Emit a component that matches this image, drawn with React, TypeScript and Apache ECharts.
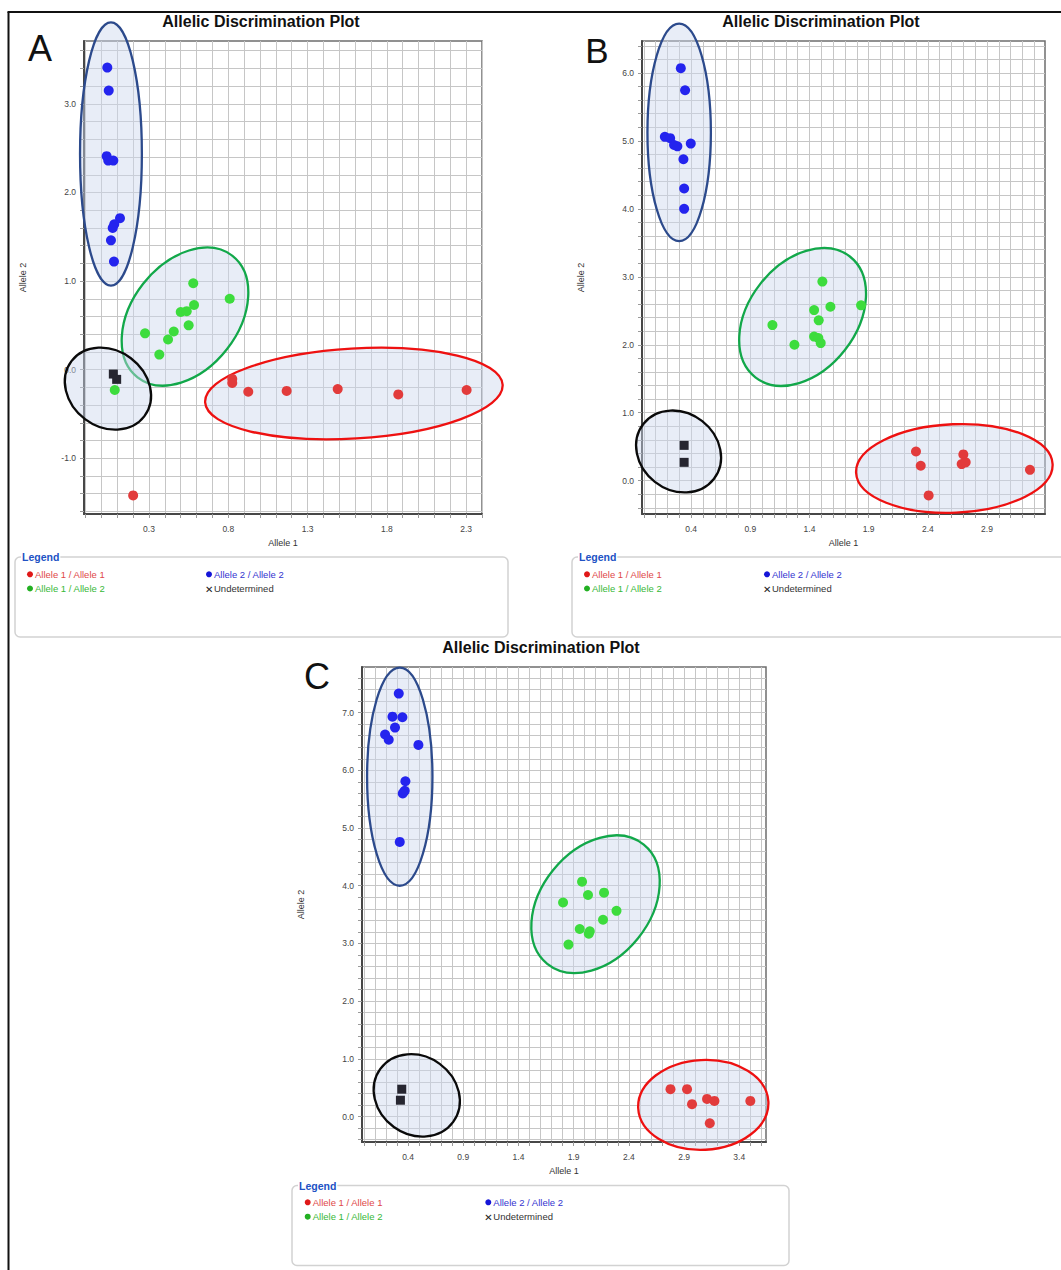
import React, { useEffect, useRef } from 'react';
import * as echarts from 'echarts';

// ---------- Panel A ----------
const A_X_LABELS = [0.3, 0.8, 1.3, 1.8, 2.3];
const A_Y_LABELS = [-1.0, 0.0, 1.0, 2.0, 3.0];
const A_X_RANGE = [-0.11, 2.4];
const A_Y_RANGE = [-1.63, 3.71];
const A_RED = [[0.825, -0.105], [0.825, -0.15], [0.926, -0.25], [1.168, -0.24], [1.49, -0.22], [1.872, -0.28], [2.303, -0.23], [0.2, -1.42]];
const A_GREEN = [[0.579, 0.975], [0.809, 0.8], [0.584, 0.73], [0.5, 0.65], [0.538, 0.66], [0.55, 0.5], [0.275, 0.41], [0.456, 0.43], [0.42, 0.34], [0.365, 0.17], [0.084, -0.23]];
const A_BLUE = [[0.037, 3.41], [0.046, 3.15], [0.033, 2.41], [0.043, 2.36], [0.075, 2.36], [0.117, 1.71], [0.081, 1.64], [0.071, 1.6], [0.06, 1.46], [0.079, 1.22]];
const A_UND = [[0.075, -0.05], [0.096, -0.11]];
// cluster ellipses: [centre x, centre y, semi-axis (x units), semi-axis (y units), tilt deg] — blue, green, black, red
const A_ELLIPSES = [[0.06, 2.435, 0.195, 1.486, 0], [0.527, 0.599, 0.486, 0.6, 52], [0.041, -0.215, 0.288, 0.43, -37], [1.592, -0.27, 0.94, 0.508, 3.4]];

// ---------- Panel B ----------
const B_X_LABELS = [0.4, 0.9, 1.4, 1.9, 2.4, 2.9];
const B_Y_LABELS = [0.0, 1.0, 2.0, 3.0, 4.0, 5.0, 6.0];
const B_X_RANGE = [-0.015, 3.39];
const B_Y_RANGE = [-0.49, 6.47];
const B_RED = [[2.3, 0.43], [2.34, 0.22], [2.407, -0.216], [2.7, 0.387], [2.686, 0.245], [2.72, 0.27], [3.263, 0.16]];
const B_GREEN = [[1.509, 2.93], [1.439, 2.51], [1.577, 2.56], [1.836, 2.58], [1.478, 2.36], [1.087, 2.29], [1.273, 2.0], [1.439, 2.12], [1.475, 2.1], [1.495, 2.025]];
const B_BLUE = [[0.313, 6.07], [0.349, 5.745], [0.178, 5.06], [0.223, 5.04], [0.256, 4.94], [0.284, 4.92], [0.397, 4.96], [0.335, 4.73], [0.341, 4.3], [0.341, 4.0]];
const B_UND = [[0.341, 0.52], [0.341, 0.27]];
const B_ELLIPSES = [[0.299, 5.125, 0.268, 1.6, 0], [1.342, 2.41, 0.648, 0.79, 52], [0.294, 0.43, 0.378, 0.566, -38], [2.624, 0.18, 0.831, 0.651, 2.5]];

// ---------- Panel C ----------
const C_X_LABELS = [0.4, 0.9, 1.4, 1.9, 2.4, 2.9, 3.4];
const C_Y_LABELS = [0.0, 1.0, 2.0, 3.0, 4.0, 5.0, 6.0, 7.0];
const C_X_RANGE = [-0.017, 3.642];
const C_Y_RANGE = [-0.44, 7.79];
const C_RED = [[2.777, 0.475], [2.927, 0.475], [2.972, 0.215], [3.108, 0.307], [3.175, 0.272], [3.133, -0.115], [3.5, 0.272]];
const C_GREEN = [[1.976, 4.07], [2.03, 3.84], [2.175, 3.88], [1.804, 3.71], [2.288, 3.565], [2.166, 3.41], [1.955, 3.25], [2.046, 3.21], [2.037, 3.17], [1.853, 2.98]];
const C_BLUE = [[0.316, 7.33], [0.259, 6.93], [0.349, 6.92], [0.282, 6.74], [0.192, 6.62], [0.225, 6.53], [0.494, 6.44], [0.376, 5.81], [0.37, 5.645], [0.352, 5.6], [0.325, 4.76]];
const C_UND = [[0.343, 0.475], [0.331, 0.284]];
const C_ELLIPSES = [[0.325, 5.89, 0.296, 1.89, 0], [2.098, 3.68, 0.695, 0.944, 51], [0.479, 0.367, 0.408, 0.676, -36], [3.074, 0.203, 0.59, 0.778, 2.9]];

const TITLE = 'Allelic Discrimination Plot';
const LEGEND_ITEMS = ['Allele 1 / Allele 1', 'Allele 1 / Allele 2', 'Allele 2 / Allele 2', 'Undetermined'];

const FONT = '"Liberation Sans", Arial, sans-serif';
const RED = '#e23b3b';
const GREEN = '#3ddc3d';
const BLUE = '#2424ee';
const DARK = '#262630';
const ELLIPSE_STROKES = ['#2c4a8c', '#12a84a', '#0a0a0a', '#ee1111'];
const ELLIPSE_FILL = 'rgba(204,216,238,0.45)';

function gridValues(min: number, max: number, step: number) {
  const out: number[] = [];
  const start = Math.ceil(min / step - 1e-9);
  for (let k = start; k * step <= max + 1e-9; k++) out.push(Math.round(k * step * 1000) / 1000);
  return out;
}

const PANELS = [
  {
    grid: { left: 84, top: 41, width: 398, height: 473 },
    xRange: A_X_RANGE, yRange: A_Y_RANGE, xLabels: A_X_LABELS, yLabels: A_Y_LABELS,
    red: A_RED, green: A_GREEN, blue: A_BLUE, und: A_UND, ellipses: A_ELLIPSES,
  },
  {
    grid: { left: 642, top: 41, width: 403, height: 473 },
    xRange: B_X_RANGE, yRange: B_Y_RANGE, xLabels: B_X_LABELS, yLabels: B_Y_LABELS,
    red: B_RED, green: B_GREEN, blue: B_BLUE, und: B_UND, ellipses: B_ELLIPSES,
  },
  {
    grid: { left: 362, top: 667, width: 404, height: 475 },
    xRange: C_X_RANGE, yRange: C_Y_RANGE, xLabels: C_X_LABELS, yLabels: C_Y_LABELS,
    red: C_RED, green: C_GREEN, blue: C_BLUE, und: C_UND, ellipses: C_ELLIPSES,
  },
];

function legendGraphic(x: number, y: number, w: number, h: number, c1: number, c2: number, r1: number, r2: number) {
  const txt = (tx: number, ty: number, text: string, fill: string, font?: string) => ({
    type: 'text', x: tx, y: ty, silent: true,
    style: { text, fill, font: font || `9.5px ${FONT}`, textAlign: 'left', textVerticalAlign: 'middle' },
  });
  return {
    type: 'group', silent: true,
    children: [
      { type: 'rect', shape: { x, y, width: w, height: h, r: 5 }, style: { fill: '#fff', stroke: '#d2d2d2', lineWidth: 1.5 } },
      {
        type: 'text', x: x + 6, y: y, style: {
          text: 'Legend', fill: '#2152c4', font: `bold 10.5px ${FONT}`, textAlign: 'left', textVerticalAlign: 'middle',
          backgroundColor: '#fff', padding: [0, 1, 0, 1],
        },
      },
      { type: 'circle', shape: { cx: c1, cy: r1, r: 3 }, style: { fill: '#e01818' } },
      txt(c1 + 5, r1, LEGEND_ITEMS[0], '#e04848'),
      { type: 'circle', shape: { cx: c1, cy: r2, r: 3 }, style: { fill: '#22b022' } },
      txt(c1 + 5, r2, LEGEND_ITEMS[1], '#38b838'),
      { type: 'circle', shape: { cx: c2, cy: r1, r: 3 }, style: { fill: '#1515d8' } },
      txt(c2 + 5, r1, LEGEND_ITEMS[2], '#3434d0'),
      txt(c2 - 4, r2 + 0.5, '✕', '#222', `bold 10px "DejaVu Sans", sans-serif`),
      txt(c2 + 5, r2, LEGEND_ITEMS[3], '#333'),
    ],
  };
}

function textG(x: number, y: number, text: string, font: string, fill = '#111') {
  return {
    type: 'text', x, y, silent: true,
    style: { text, font, fill, textAlign: 'center', textVerticalAlign: 'middle' },
  };
}

export default function App() {
  const ref = useRef<HTMLDivElement>(null);
  useEffect(() => {
    if (!ref.current) return;
    const chart = echarts.init(ref.current, null, { renderer: 'svg' });

    const grids: any[] = [];
    const xAxes: any[] = [];
    const yAxes: any[] = [];
    const series: any[] = [];

    PANELS.forEach((p, i) => {
      grids.push({
        ...p.grid, show: true, backgroundColor: '#fff', borderColor: '#6e6e6e', borderWidth: 1.5,
        containLabel: false, outerBoundsMode: 'none',
      });
      xAxes.push({
        type: 'value', gridIndex: i, min: p.xRange[0], max: p.xRange[1],
        name: 'Allele 1', nameLocation: 'middle', nameGap: 24,
        nameTextStyle: { fontSize: 9, color: '#333', fontFamily: FONT },
        axisLine: { show: true, onZero: false, lineStyle: { color: '#474747', width: 2 } },
        axisTick: { show: true, inside: false, length: 4, customValues: gridValues(p.xRange[0], p.xRange[1], 0.1), lineStyle: { color: '#9a9a9a' } },
        axisLabel: { show: true, customValues: p.xLabels, formatter: (v: number) => Number(v).toFixed(1), fontSize: 8.5, color: '#444', margin: 10, fontFamily: FONT },
        splitLine: { show: true, lineStyle: { color: '#c6c6c6', width: 1 } },
      });
      yAxes.push({
        type: 'value', gridIndex: i, min: p.yRange[0], max: p.yRange[1],
        name: 'Allele 2', nameLocation: 'middle', nameGap: 57, nameRotate: 90,
        nameTextStyle: { fontSize: 9, color: '#333', fontFamily: FONT },
        axisLine: { show: true, onZero: false, lineStyle: { color: '#474747', width: 2 } },
        axisTick: { show: true, inside: false, length: 4, customValues: gridValues(p.yRange[0], p.yRange[1], 0.2), lineStyle: { color: '#9a9a9a' } },
        axisLabel: { show: true, customValues: p.yLabels, formatter: (v: number) => Number(v).toFixed(1), fontSize: 8.5, color: '#444', margin: 8, fontFamily: FONT },
        splitLine: { show: true, lineStyle: { color: '#c6c6c6', width: 1 } },
      });
      series.push({
        type: 'custom', xAxisIndex: i, yAxisIndex: i, clip: false, silent: true, z: 2,
        data: p.ellipses,
        renderItem: (params: any, api: any) => {
          const c = api.coord([api.value(0), api.value(1)]);
          const rx = api.size([api.value(2), 0])[0];
          const ry = api.size([0, api.value(3)])[1];
          return {
            type: 'ellipse', x: c[0], y: c[1], rotation: (api.value(4) * Math.PI) / 180,
            shape: { cx: 0, cy: 0, rx, ry },
            style: { fill: ELLIPSE_FILL, stroke: ELLIPSE_STROKES[params.dataIndex], lineWidth: 2.3 },
          };
        },
      });
      const sc = (data: number[][], color: string, symbol = 'circle', size = 10) => ({
        type: 'scatter', xAxisIndex: i, yAxisIndex: i, data, symbol, symbolSize: size, silent: true, z: 3,
        itemStyle: { color, opacity: 1 },
      });
      series.push(sc(p.red, RED));
      series.push(sc(p.green, GREEN));
      series.push(sc(p.blue, BLUE));
      series.push(sc(p.und, DARK, 'rect', 9));
    });

    const graphic: any[] = [
      { type: 'line', shape: { x1: 7.5, y1: 12, x2: 1061, y2: 12 }, style: { stroke: '#111', lineWidth: 2 }, silent: true },
      { type: 'line', shape: { x1: 8.5, y1: 12, x2: 8.5, y2: 1270 }, style: { stroke: '#111', lineWidth: 2 }, silent: true },
      textG(261, 21, TITLE, `bold 16px ${FONT}`),
      textG(821, 21, TITLE, `bold 16px ${FONT}`),
      textG(541, 647, TITLE, `bold 16px ${FONT}`),
      textG(40, 48, 'A', `36px ${FONT}`),
      textG(597, 50, 'B', `35px ${FONT}`),
      textG(317, 676, 'C', `36px ${FONT}`),
      legendGraphic(15, 557, 493, 80, 30, 209, 574.3, 588.5),
      legendGraphic(572, 557, 510, 80, 587, 767, 574.3, 588.5),
      legendGraphic(292, 1185.5, 497, 80, 307.7, 488.3, 1202.3, 1216.7),
    ];

    chart.setOption({
      animation: false,
      backgroundColor: '#fff',
      textStyle: { fontFamily: FONT },
      grid: grids,
      xAxis: xAxes,
      yAxis: yAxes,
      series,
      graphic,
    });
    return () => chart.dispose();
  }, []);
  return <div ref={ref} style={{ position: 'absolute', left: 0, top: 0, width: 1061, height: 1270 }} />;
}
